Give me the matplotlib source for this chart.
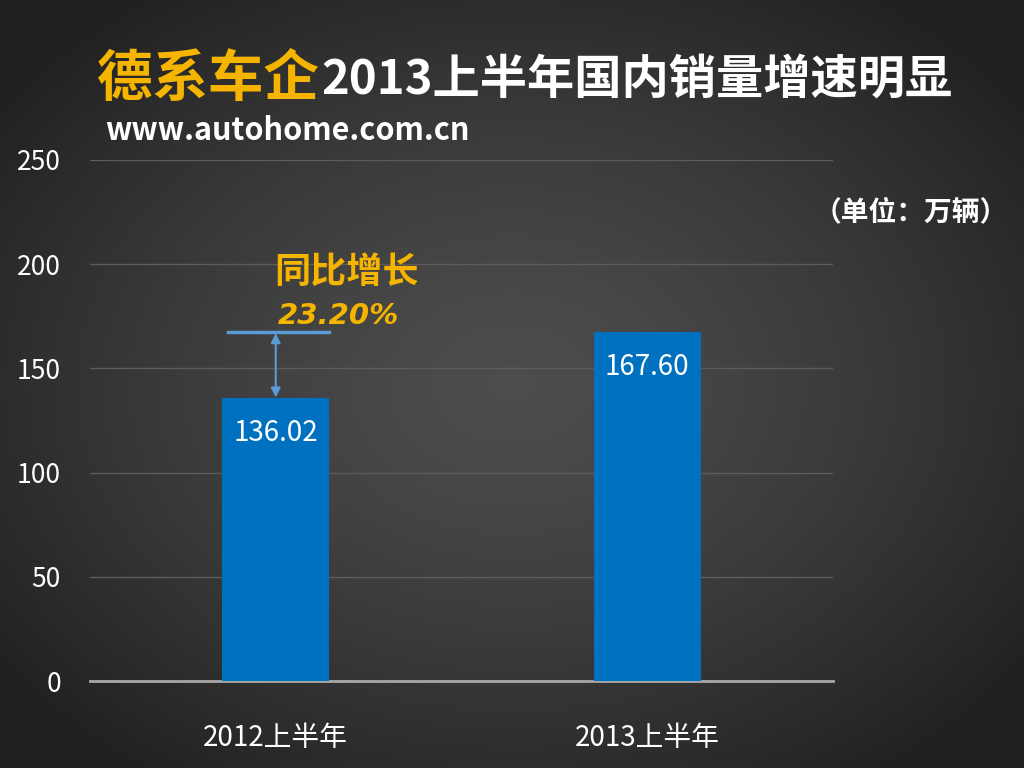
import numpy as np
import matplotlib
matplotlib.use("Agg")
import matplotlib.pyplot as plt

plt.rcParams['font.family'] = ['Noto Sans CJK SC', 'DejaVu Sans']

# data
categories = ['2012上半年', '2013上半年']
sales = [136.02, 167.60]
value_labels = ['136.02', '167.60']
y_ticks = [0, 50, 100, 150, 200, 250]
growth_label = '23.20%'

W, H = 1024, 768
fig = plt.figure(figsize=(W / 100, H / 100), dpi=100)

# radial dark-gray background
bg = fig.add_axes([0, 0, 1, 1])
yy, xx = np.mgrid[0:H, 0:W]
r = np.sqrt(((xx - W * 0.5) / (W * 0.62)) ** 2 + ((yy - H * 0.5) / (H * 0.62)) ** 2)
r = np.clip(r, 0, 1)
shade = 0.30 - 0.17 * r ** 1.4
bg.imshow(np.dstack([shade, shade, shade]), extent=[0, 1, 0, 1], aspect='auto')
bg.axis('off')

# main axes
ax = fig.add_axes([90 / W, 87 / H, 743 / W, 521 / H])
ax.patch.set_alpha(0)
x = np.arange(len(categories))
bw = 0.288
ax.bar(x, sales, width=bw, color='#0070C0', zorder=3)
ax.set_xlim(-0.5, 1.5)
ax.set_ylim(0, 250)
ax.set_yticks(y_ticks)
ax.set_xticks(x)
ax.set_xticklabels(categories)
ax.grid(axis='y', color='#5c5c5c', lw=1, zorder=0)
for s in ['top', 'right', 'left']:
    ax.spines[s].set_visible(False)
ax.spines['bottom'].set_color('#a8a8a8')
ax.spines['bottom'].set_linewidth(2)
ax.tick_params(axis='y', length=0, pad=21, labelsize=19, labelcolor='white')
ax.tick_params(axis='x', length=0, pad=30, labelsize=20, labelcolor='white')

for xi, v, lab in zip(x, sales, value_labels):
    ax.text(xi, v - 17, lab, ha='center', va='center', color='white', fontsize=20, zorder=4)

# growth annotation
ax.plot([x[0] - bw / 2 + 0.015, x[0] + bw / 2], [sales[1], sales[1]], color='#5B9BD5', lw=2.5, zorder=4)
ax.annotate('', xy=(x[0], sales[0]), xytext=(x[0], sales[1]),
            arrowprops=dict(arrowstyle='<|-|>', color='#5B9BD5', lw=1.5, mutation_scale=14,
                            shrinkA=1, shrinkB=0), zorder=4)
ax.text(x[0] - 0.005, 196, '同比增长', ha='left', va='center', color='#F5B400',
        fontsize=26, fontweight='bold', style='italic')
ax.text(x[0] + 0.005, 175, growth_label, ha='left', va='center', color='#F5B400',
        fontsize=21, fontweight='bold', style='italic', family=['DejaVu Sans'])

# title
t1 = fig.text(97 / W, 1 - 80 / H, '德系车企', ha='left', va='center', color='#F5B400',
              fontsize=40, fontweight='bold')
fig.canvas.draw()
bb = t1.get_window_extent()
fig.text(bb.x1 / W + 0.002, 1 - 80 / H, '2013上半年国内销量增速明显', ha='left', va='center',
         color='white', fontsize=34, fontweight='bold')
fig.text(105 / W, 1 - 131 / H, 'www.autohome.com.cn', ha='left', va='center', color='white',
         fontsize=22, fontweight='bold')
fig.text(1008 / W, 1 - 212 / H, '（单位：万辆）', ha='right', va='center', color='white',
         fontsize=20, fontweight='bold')

fig.savefig('out.png', dpi=100)
